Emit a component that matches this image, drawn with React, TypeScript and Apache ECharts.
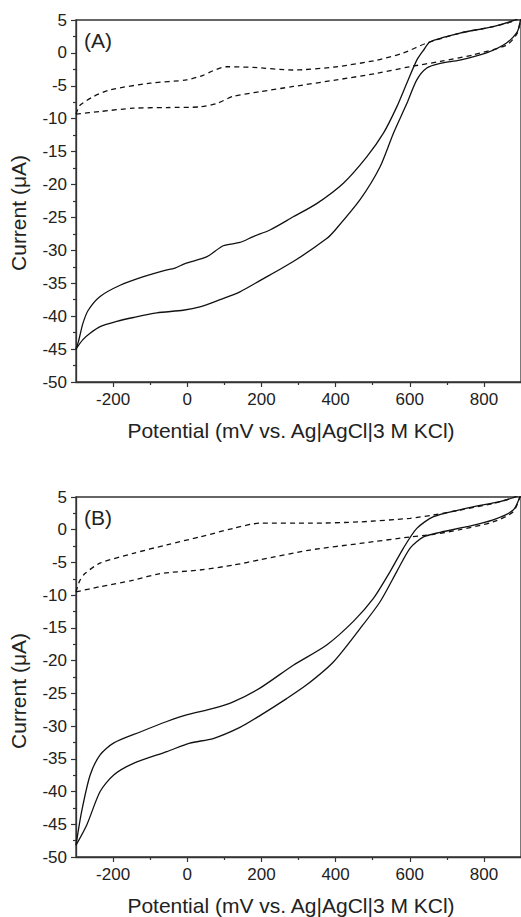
import React, { useEffect, useRef } from "react";
import * as echarts from "echarts";

// Panel A (x: potential mV, y: current µA)
const aSolidUpper: [number, number][] = [
  [-300, -45], [-293, -43.8], [-282, -41.2], [-267, -39.1], [-235, -37.0], [-181, -35.3], [-118, -34.0],
  [-65, -33.1], [-33, -32.7], [-6, -32.0], [52, -31.0], [97, -29.3], [142, -28.8],
  [178, -27.9], [223, -26.9], [286, -24.9], [349, -22.9], [421, -19.8], [484, -15.8],
  [529, -12.2], [565, -8.2], [592, -4.6], [619, -1.1], [637, 0.4], [655, 1.7],
  [735, 3.0], [825, 4.0], [879, 4.9], [900, 5.5],
];
const aSolidLower: [number, number][] = [
  [-300, -45], [-282, -43.6], [-262, -42.6], [-235, -41.6], [-190, -40.8], [-145, -40.2], [-82, -39.5],
  [-11, -39.1], [34, -38.6], [88, -37.5], [142, -36.3], [196, -34.6], [286, -31.7],
  [376, -28.2], [399, -26.9], [466, -22.3], [520, -17.3], [556, -12.2], [592, -7.7],
  [619, -4.1], [646, -2.3], [682, -1.6], [735, -1.1], [807, 0.0], [861, 1.5],
  [890, 3.2], [900, 5.5],
];
const aDashUpper: [number, number][] = [
  [-300, -9.3], [-290, -8.0], [-252, -6.6], [-208, -5.6], [-100, -4.6], [-2, -4.1],
  [43, -3.4], [70, -2.7], [106, -2.1], [178, -2.2], [286, -2.6], [403, -2.1],
  [511, -1.1], [583, 0.0], [646, 1.5], [735, 3.0], [825, 4.0], [879, 4.8], [900, 5.5],
];
const aDashLower: [number, number][] = [
  [-300, -9.3], [-235, -8.9], [-145, -8.4], [-55, -8.3], [34, -8.2], [79, -7.7],
  [124, -6.6], [196, -5.9], [286, -5.1], [403, -4.1], [511, -3.1], [600, -2.1],
  [682, -1.3], [771, -0.3], [861, 1.2], [890, 3.0], [900, 5.5],
];

// Panel B
const bSolidUpper: [number, number][] = [
  [-300, -48.2], [-285, -43.1], [-262, -37.5], [-235, -34.4], [-199, -32.6], [-127, -30.9],
  [-55, -29.3], [-2, -28.3], [70, -27.3], [124, -26.3], [196, -24.2], [286, -20.7],
  [376, -17.6], [448, -14.0], [502, -10.5], [547, -6.4], [583, -2.8], [619, 0.2],
  [664, 2.0], [754, 3.3], [843, 4.3], [884, 5.0], [900, 5.5],
];
const bSolidLower: [number, number][] = [
  [-300, -48.2], [-271, -45.1], [-235, -40.0], [-199, -37.5], [-145, -35.7], [-55, -33.9],
  [7, -32.6], [70, -31.9], [142, -30.2], [196, -28.4], [268, -25.8], [322, -23.7],
  [394, -20.2], [466, -15.1], [520, -11.0], [565, -6.4], [601, -2.8], [637, -1.1],
  [682, -0.4], [754, 0.46], [825, 1.5], [879, 3.0], [900, 5.5],
];
const bDashUpper: [number, number][] = [
  [-300, -9.5], [-290, -7.8], [-276, -6.7], [-235, -5.1], [-145, -3.6], [-55, -2.3],
  [34, -1.1], [124, 0.2], [196, 1.0], [331, 1.0], [466, 1.2], [601, 1.75],
  [664, 2.25], [735, 3.0], [825, 4.0], [879, 4.9], [900, 5.5],
];
const bDashLower: [number, number][] = [
  [-300, -9.5], [-235, -8.7], [-145, -7.7], [-73, -6.7], [34, -6.15], [124, -5.4],
  [196, -4.6], [331, -3.1], [466, -2.1], [601, -1.1], [664, -0.7], [735, 0.0],
  [825, 1.2], [879, 2.75], [900, 5.5],
];

const xMajorTicks = [-200, 0, 200, 400, 600, 800];
const xMinorTicks = [-100, 100, 300, 500, 700];
const panelLabels = ["(A)", "(B)"];
const xTitle = "Potential (mV vs. Ag|AgCl|3 M KCl)";
const yTitle = "Current (\u03bcA)";

const FONT = '"Liberation Sans", Arial, sans-serif';
const AXIS = "#333";

export default function App() {
  const ref = useRef<HTMLDivElement>(null);
  useEffect(() => {
    if (!ref.current) return;
    const chart = echarts.init(ref.current, undefined, { renderer: "svg" });
    const grids = [
      { left: 76, right: -1, top: 20, height: 362 },
      { left: 76, right: -1, top: 497, height: 360 },
    ];
    const xAxes: any[] = [];
    const yAxes: any[] = [];
    grids.forEach((_, g) => {
      xAxes.push({
        gridIndex: g, type: "value", min: -300, max: 900, position: "bottom",
        axisLine: { show: true, onZero: false, lineStyle: { color: AXIS, width: 1.3 } },
        axisTick: { show: true, customValues: xMajorTicks, length: 5, lineStyle: { color: AXIS, width: 1.2 } },
        axisLabel: { customValues: xMajorTicks, fontSize: 17, color: "#222", fontFamily: FONT, margin: 9 },
        splitLine: { show: false },
      });
      xAxes.push({
        gridIndex: g, type: "value", min: -300, max: 900, position: "bottom",
        axisLine: { show: false, onZero: false },
        axisTick: { show: true, customValues: xMinorTicks, length: 3, lineStyle: { color: AXIS, width: 1.2 } },
        axisLabel: { show: false },
        splitLine: { show: false },
      });
      yAxes.push({
        gridIndex: g, type: "value", min: -50, max: 5, interval: 5, position: "left",
        axisLine: { show: true, onZero: false, lineStyle: { color: AXIS, width: 1.3 } },
        axisTick: { show: true, length: 5, lineStyle: { color: AXIS, width: 1.2 } },
        minorTick: { show: true, splitNumber: 2, length: 3, lineStyle: { color: AXIS, width: 1.2 } },
        axisLabel: { fontSize: 17, color: "#222", fontFamily: FONT, margin: 9 },
        splitLine: { show: false },
        minorSplitLine: { show: false },
      });
    });
    const mk = (data: [number, number][], g: number, dashed: boolean) => ({
      type: "line", data, xAxisIndex: g * 2, yAxisIndex: g,
      showSymbol: false, symbol: "none", smooth: 0.25, clip: true,
      lineStyle: { color: "#111", width: 1.3, type: dashed ? [5, 4] : "solid" },
    });
    const graphic: any[] = [];
    [40, 517].forEach((y, i) => {
      graphic.push({
        type: "text", x: 84, y,
        style: { text: panelLabels[i], font: `21px ${FONT}`, fill: "#222", verticalAlign: "middle" },
      });
    });
    [430, 905].forEach((y) => {
      graphic.push({
        type: "text", x: 291, y,
        style: { text: xTitle, font: `21px ${FONT}`, fill: "#222", align: "center", verticalAlign: "middle" },
      });
    });
    [213, 691].forEach((y) => {
      graphic.push({
        type: "text", x: 18, y, rotation: Math.PI / 2,
        style: { text: yTitle, font: `21px ${FONT}`, fill: "#222", align: "center", verticalAlign: "middle" },
      });
    });
    chart.setOption({
      animation: false,
      backgroundColor: "#fff",
      grid: grids.map((gr) => ({ ...gr, show: true, borderColor: AXIS, borderWidth: 1.3, backgroundColor: "transparent" })),
      xAxis: xAxes,
      yAxis: yAxes,
      series: [
        mk(aSolidUpper, 0, false), mk(aSolidLower, 0, false),
        mk(aDashUpper, 0, true), mk(aDashLower, 0, true),
        mk(bSolidUpper, 1, false), mk(bSolidLower, 1, false),
        mk(bDashUpper, 1, true), mk(bDashLower, 1, true),
      ],
      graphic,
    });
    return () => chart.dispose();
  }, []);
  return (
    <div
      ref={ref}
      style={{ position: "fixed", left: 0, top: 0, width: 521, height: 917, background: "#fff" }}
    />
  );
}
